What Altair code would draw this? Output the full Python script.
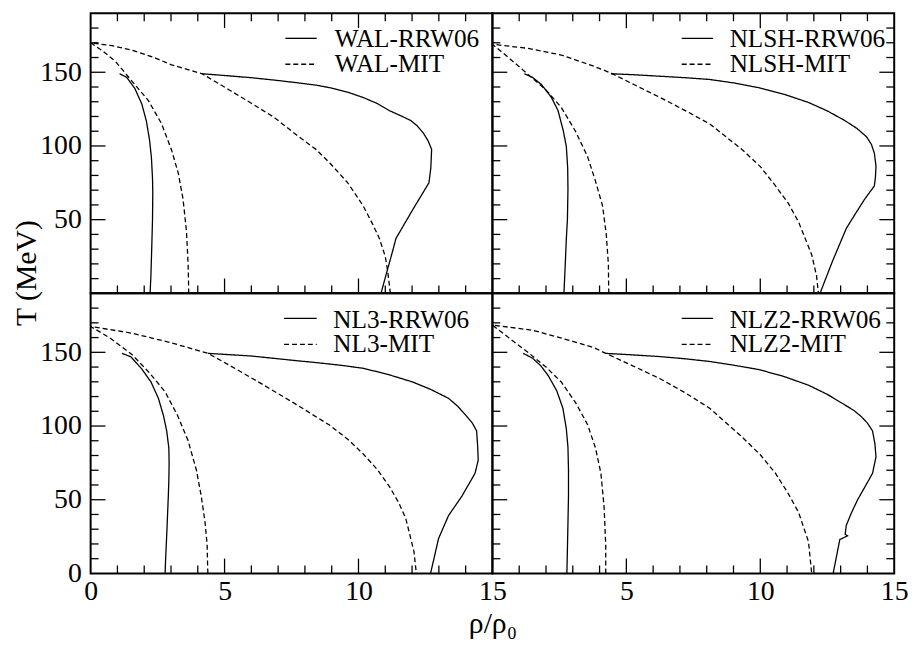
import altair as alt
import pandas as pd

FONT = "Liberation Serif"

# ---------------- tick values / labels ----------------
X_LABELS_LEFT = [0, 5, 10, 15]
X_LABELS_RIGHT = [5, 10, 15]
Y_LABELS_TOP = [50, 100, 150]
Y_LABELS_BOTTOM = [0, 50, 100, 150]
X_MAJOR_TICKS = [5, 10]
X_MINOR_TICKS = [1, 2, 3, 4, 6, 7, 8, 9, 11, 12, 13, 14]
Y_MAJOR_TICKS = [50, 100, 150]
Y_MINOR_TICKS = [10, 20, 30, 40, 60, 70, 80, 90, 110, 120, 130, 140, 160, 170, 180]

MODELS = ["WAL", "NLSH", "NL3", "NLZ2"]

# ---------------- WAL ----------------
WAL_RRW_IN_RHO = [1.08, 1.35, 1.65, 1.91, 2.08, 2.20, 2.27, 2.31, 2.32, 2.31, 2.28, 2.25, 2.22]
WAL_RRW_IN_T = [149, 146.5, 139, 128.5, 117, 104, 92, 78, 68, 50, 30, 12, 0]
WAL_RRW_OUT_RHO = [4.16, 5.0, 6.0, 7.0, 7.70, 8.44, 8.93, 9.6, 10.17, 10.7, 11.15, 11.6, 11.95, 12.2,
                   12.41, 12.6, 12.73, 12.70, 12.63, 12.0, 11.40, 11.27, 11.05, 10.84]
WAL_RRW_OUT_T = [149, 147.8, 146.3, 144.4, 142.9, 141.2, 139.5, 136.5, 132.9, 128.8, 124, 120.3, 117.3, 113.5,
                 109, 103.5, 97.7, 85, 75, 56, 37.3, 28.4, 14, 0]
WAL_MIT_RHO = [3.66, 3.66, 3.64, 3.58, 3.45, 3.27, 3.02, 2.65, 2.16, 1.54, 0.93, 0.45, 0.0,
               0.8, 1.54, 2.3, 3.02, 3.6, 4.16, 5.24, 6.0, 6.84, 7.70, 8.44, 8.93, 9.6, 10.17,
               10.5, 10.78, 11.0, 11.09, 11.19]
WAL_MIT_T = [0, 3, 19.5, 41.7, 64, 81.7, 97.3, 115, 130.7, 144, 157.3, 164.5, 170,
             168, 165, 160.5, 155, 152, 149, 137.3, 129, 119.5, 107.3, 97.3, 88.4, 75, 59.5,
             48, 37.3, 25, 15, 0]

# ---------------- NLSH ----------------
NLSH_RRW_IN_RHO = [1.19, 1.5, 1.83, 2.2, 2.45, 2.65, 2.76, 2.81, 2.82, 2.80, 2.76, 2.72, 2.67]
NLSH_RRW_IN_T = [149, 146.5, 141.7, 133, 124, 110, 99.5, 85, 70.7, 50, 37.3, 20, 0]
NLSH_RRW_OUT_RHO = [4.42, 5.3, 6.26, 7.2, 8.11, 9.0, 9.95, 10.9, 11.80, 12.5, 13.15, 13.6, 13.97, 14.15,
                    14.26, 14.32, 14.30, 14.26, 13.90, 13.55, 13.21, 12.7, 12.23]
NLSH_RRW_OUT_T = [149, 148.3, 147.3, 146.3, 145.1, 142.8, 139.5, 135, 129.5, 123.8, 117.3, 112, 106.2, 101,
                  95, 86.2, 79, 72.9, 64, 54, 44, 22, 0]
NLSH_MIT_RHO = [4.35, 4.34, 4.33, 4.25, 4.11, 3.85, 3.55, 3.1, 2.57, 2.0, 1.34, 0.6, 0.0,
                1.34, 2.57, 3.80, 4.42, 5.3, 6.26, 7.2, 8.11, 9.34, 10.0, 10.57, 11.05, 11.43,
                11.92, 12.1, 12.17]
NLSH_MIT_T = [0, 3, 19.5, 40, 59.5, 76, 92.9, 110, 126.2, 138, 148.4, 160, 169,
              166.2, 161.7, 154, 149.5, 141.5, 132.9, 124, 115, 97.3, 86, 72.9, 61, 48.4,
              26.2, 12, 0]

# ---------------- NL3 ----------------
NL3_RRW_IN_RHO = [1.17, 1.5, 1.91, 2.25, 2.53, 2.72, 2.84, 2.92, 2.93, 2.92, 2.90, 2.85, 2.80, 2.78]
NL3_RRW_IN_T = [149.3, 147, 138.7, 130, 118.8, 107, 96.7, 85, 74.6, 63, 52.4, 30, 10, 0]
NL3_RRW_OUT_RHO = [4.38, 6.0, 7.70, 8.44, 9.3, 10.17, 11.1, 12.02, 12.7, 13.36, 13.7, 13.98, 14.25, 14.41,
                   14.45, 14.47, 14.35, 13.86, 13.36, 12.99, 12.69]
NL3_RRW_OUT_T = [149.3, 147.5, 144.3, 143, 141.3, 139.2, 135, 129.9, 124.8, 118.8, 113.5, 107.8, 102, 96.7,
                 86, 76.8, 67.9, 52.4, 39.2, 23.7, 0]
NL3_MIT_RHO = [4.38, 4.37, 4.35, 4.27, 4.13, 3.95, 3.64, 3.25, 2.78, 2.2, 1.54, 0.7, 0.0,
               1.54, 3.0, 4.38, 5.4, 6.47, 7.70, 8.44, 8.93, 9.6, 10.17, 10.7, 11.15, 11.5,
               11.77, 12.07, 12.16]
NL3_MIT_T = [0, 3, 19.2, 35, 52.4, 70, 90, 107, 123.2, 136, 148.6, 160, 167.5,
             163, 156.5, 149.3, 139, 127.7, 114.4, 106, 100.5, 91, 81.2, 70.5, 59.1, 48,
             37, 14.9, 0]

# ---------------- NLZ2 ----------------
NLZ2_RRW_IN_RHO = [1.15, 1.5, 1.8, 2.08, 2.4, 2.63, 2.76, 2.82, 2.84, 2.84, 2.81, 2.78]
NLZ2_RRW_IN_T = [149.3, 146, 141, 134.3, 124, 112.1, 98, 85.6, 70, 52.4, 25, 0]
NLZ2_RRW_OUT_RHO = [4.23, 5.2, 6.26, 7.2, 8.11, 9.0, 9.95, 10.9, 11.80, 12.5, 13.15, 13.5, 13.76, 14.0,
                    14.19, 14.28, 14.32, 14.19, 13.9, 13.64, 13.4, 13.21, 13.17, 13.26, 12.97, 12.72]
NLZ2_RRW_OUT_T = [149.3, 148.3, 147.1, 145.6, 143.8, 141.3, 138.3, 133.5, 127.7, 121.5, 114.4, 110.5, 106.6, 102,
                  96.7, 88, 79, 67.9, 58.5, 50.2, 41, 32.5, 26.5, 25.5, 23, 0]
NLZ2_MIT_RHO = [4.23, 4.23, 4.23, 4.17, 4.05, 3.85, 3.55, 3.1, 2.57, 2.0, 1.34, 0.6, 0.0,
                1.5, 3.0, 3.80, 4.23, 5.2, 6.26, 7.2, 8.11, 9.34, 10.0, 10.57, 11.05, 11.43,
                11.80, 11.92]
NLZ2_MIT_T = [0, 3, 19.2, 45, 67.9, 85, 101.1, 116, 129.9, 140, 149.8, 160, 168.5,
              165, 157.5, 153.1, 149.3, 141.2, 132.1, 122.5, 112.1, 92.2, 80.5, 67.9, 54, 41.4,
              21.5, 0]

CURVES = {
    "WAL": [("RRW06", WAL_RRW_IN_RHO, WAL_RRW_IN_T), ("RRW06", WAL_RRW_OUT_RHO, WAL_RRW_OUT_T),
            ("MIT", WAL_MIT_RHO, WAL_MIT_T)],
    "NLSH": [("RRW06", NLSH_RRW_IN_RHO, NLSH_RRW_IN_T), ("RRW06", NLSH_RRW_OUT_RHO, NLSH_RRW_OUT_T),
             ("MIT", NLSH_MIT_RHO, NLSH_MIT_T)],
    "NL3": [("RRW06", NL3_RRW_IN_RHO, NL3_RRW_IN_T), ("RRW06", NL3_RRW_OUT_RHO, NL3_RRW_OUT_T),
            ("MIT", NL3_MIT_RHO, NL3_MIT_T)],
    "NLZ2": [("RRW06", NLZ2_RRW_IN_RHO, NLZ2_RRW_IN_T), ("RRW06", NLZ2_RRW_OUT_RHO, NLZ2_RRW_OUT_T),
             ("MIT", NLZ2_MIT_RHO, NLZ2_MIT_T)],
}

# ---------------- layout ----------------
W, H = 406, 283
MAJOR, MINOR = 15, 8
XS = alt.Scale(domain=[0, 15], nice=False, zero=False)
YS = alt.Scale(domain=[0, 190], nice=False, zero=False)
DASH = [5, 3]

# legend placement (line start, line end, text start) per panel, in pixels
LEG_POS = {"WAL": (196.8, 228.5, 246.8), "NLSH": (191.3, 223.0, 239.7),
           "NL3": (195.5, 228.5, 245.2), "NLZ2": (191.3, 223.0, 239.7)}
ROW_LINE_Y = [25.3, 51.5]
ROW_TEXT_Y = [34.5, 59.5]


def make_df(model):
    rows = []
    for ci, (kind, xs, ts) in enumerate(CURVES[model]):
        for i, (x, t) in enumerate(zip(xs, ts)):
            rows.append({"rho": x, "T": t, "kind": kind, "curve": f"c{ci}", "i": i})
    return pd.DataFrame(rows)


def tick_layers(x_axis, y_axis, top, right):
    layers = []
    for vals, ln in ((X_MAJOR_TICKS, MAJOR), (X_MINOR_TICKS, MINOR)):
        d = pd.DataFrame({"v": vals})
        base = alt.Chart(d).mark_rule(color="black", strokeWidth=1.3)
        layers.append(base.encode(x=alt.X("v:Q", scale=XS, axis=x_axis),
                                  y=alt.value(H), y2=alt.value(H - ln)))
        if top:
            layers.append(base.encode(x=alt.X("v:Q", scale=XS, axis=x_axis),
                                      y=alt.value(0), y2=alt.value(ln)))
    for vals, ln in ((Y_MAJOR_TICKS, MAJOR), (Y_MINOR_TICKS, MINOR)):
        d = pd.DataFrame({"v": vals})
        base = alt.Chart(d).mark_rule(color="black", strokeWidth=1.3)
        layers.append(base.encode(y=alt.Y("v:Q", scale=YS, axis=y_axis),
                                  x=alt.value(0), x2=alt.value(ln)))
        if right:
            layers.append(base.encode(y=alt.Y("v:Q", scale=YS, axis=y_axis),
                                      x=alt.value(W), x2=alt.value(W - ln)))
    return layers


def legend_layers(model):
    x0, x1, tx = LEG_POS[model]
    layers = []
    for r, kind in enumerate(["RRW06", "MIT"]):
        d = pd.DataFrame({"label": [f"{model}-{kind}"]})
        if kind == "MIT":
            rule = alt.Chart(d).mark_rule(color="black", strokeWidth=1.3, strokeDash=DASH)
        else:
            rule = alt.Chart(d).mark_rule(color="black", strokeWidth=1.3)
        layers.append(rule.encode(x=alt.value(x0), x2=alt.value(x1), y=alt.value(ROW_LINE_Y[r])))
        layers.append(alt.Chart(d).mark_text(align="left", baseline="alphabetic", font=FONT,
                                             fontSize=25.5, color="black")
                      .encode(text="label:N", x=alt.value(tx), y=alt.value(ROW_TEXT_Y[r])))
    return layers


def label_axis(values, **kw):
    return alt.Axis(values=values, ticks=False, tickSize=0, domain=False, grid=False,
                    labelFont=FONT, labelFontSize=28, labelColor="black",
                    labelFlush=False, labelOverlap=False, **kw)


def panel(model, x_axis, y_axis, top, right):
    df = make_df(model)
    lines = alt.Chart(df).mark_line(color="black", strokeWidth=1.3, clip=True).encode(
        x=alt.X("rho:Q", scale=XS, axis=x_axis),
        y=alt.Y("T:Q", scale=YS, axis=y_axis),
        detail="curve:N",
        order="i:Q",
        strokeDash=alt.StrokeDash("kind:N", scale=alt.Scale(domain=["RRW06", "MIT"],
                                                            range=[[1, 0], DASH]), legend=None),
    )
    return alt.layer(lines, *tick_layers(x_axis, y_axis, top, right),
                     *legend_layers(model)).properties(width=W, height=H)


y_top_left = label_axis(Y_LABELS_TOP, labelPadding=9.5,
                        title="T (MeV)", titleFont=FONT, titleFontSize=30, titleFontWeight="normal",
                        titleColor="black", titleX=-50, titleY=262, titleBaseline="bottom",
                        titleAlign="center")
y_bottom_left = label_axis(Y_LABELS_BOTTOM, labelPadding=9.5, title=None)
x_bottom_left = label_axis(X_LABELS_LEFT, labelPadding=4,
                           title="ρ/ρ₀", titleFont=FONT, titleFontSize=30, titleFontWeight="normal",
                           titleColor="black", titleX=406, titleY=60, titleBaseline="alphabetic",
                           titleAlign="center")
x_bottom_right = label_axis(X_LABELS_RIGHT, labelPadding=4, title=None)

p1 = panel("WAL", None, y_top_left, True, False)
p2 = panel("NLSH", None, None, True, True)
p3 = panel("NL3", x_bottom_left, y_bottom_left, False, False)
p4 = panel("NLZ2", x_bottom_right, None, False, True)

chart = alt.concat(p1, p2, p3, p4, columns=2, spacing=0, bounds="flush").configure_view(
    stroke="black", strokeWidth=2
).properties(
    padding={"left": 2.5, "top": 0, "right": 5, "bottom": 5},
    background="white",
)

chart.save("out.html", embed_options={"renderer": "svg", "actions": False})
